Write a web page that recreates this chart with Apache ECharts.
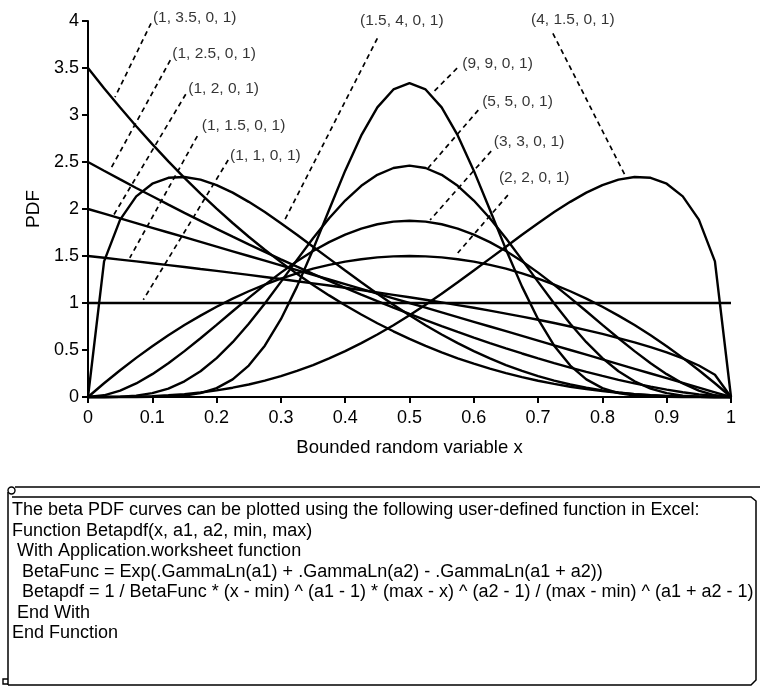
<!DOCTYPE html>
<html>
<head>
<meta charset="utf-8">
<script src="https://cdn.jsdelivr.net/npm/echarts@6/dist/echarts.min.js"></script>
<style>
  html, body { margin: 0; padding: 0; background: #fff; }
  #chart { width: 762px; height: 688px; }
</style>
</head>
<body>
<div id="chart"></div>
<script>
// x samples used for every curve (step 0.025)
var xs = [0, 0.025, 0.05, 0.075, 0.1, 0.125, 0.15, 0.175, 0.2, 0.225, 0.25, 0.275, 0.3, 0.325, 0.35, 0.375,
  0.4, 0.425, 0.45, 0.475, 0.5, 0.525, 0.55, 0.575, 0.6, 0.625, 0.65, 0.675, 0.7, 0.725, 0.75, 0.775,
  0.8, 0.825, 0.85, 0.875, 0.9, 0.925, 0.95, 0.975, 1];

var beta_1_1 = [1, 1, 1, 1, 1, 1, 1, 1, 1, 1, 1, 1, 1, 1, 1, 1, 1, 1, 1, 1, 1, 1, 1, 1, 1, 1, 1, 1, 1, 1, 1,
  1, 1, 1, 1, 1, 1, 1, 1, 1, 1];
var beta_1_15 = [1.5, 1.481, 1.462, 1.443, 1.423, 1.403, 1.383, 1.362, 1.342, 1.320, 1.299, 1.277, 1.255, 1.232,
  1.209, 1.186, 1.162, 1.137, 1.112, 1.087, 1.061, 1.034, 1.006, 0.978, 0.949, 0.919, 0.887, 0.855, 0.822,
  0.787, 0.75, 0.711, 0.671, 0.627, 0.581, 0.530, 0.474, 0.411, 0.335, 0.237, 0];
var beta_1_2 = [2, 1.95, 1.9, 1.85, 1.8, 1.75, 1.7, 1.65, 1.6, 1.55, 1.5, 1.45, 1.4, 1.35, 1.3, 1.25, 1.2, 1.15,
  1.1, 1.05, 1, 0.95, 0.9, 0.85, 0.8, 0.75, 0.7, 0.65, 0.6, 0.55, 0.5, 0.45, 0.4, 0.35, 0.3, 0.25, 0.2, 0.15,
  0.1, 0.05, 0];
var beta_1_25 = [2.5, 2.407, 2.315, 2.224, 2.135, 2.046, 1.959, 1.873, 1.789, 1.706, 1.624, 1.543, 1.464, 1.386,
  1.310, 1.235, 1.162, 1.090, 1.020, 0.951, 0.884, 0.818, 0.755, 0.693, 0.632, 0.574, 0.518, 0.463, 0.411,
  0.361, 0.313, 0.267, 0.224, 0.183, 0.145, 0.110, 0.079, 0.051, 0.028, 0.010, 0];
var beta_1_35 = [3.5, 3.285, 3.079, 2.880, 2.690, 2.507, 2.331, 2.164, 2.003, 1.851, 1.705, 1.566, 1.435, 1.310,
  1.192, 1.081, 0.976, 0.877, 0.785, 0.699, 0.619, 0.544, 0.475, 0.412, 0.354, 0.301, 0.254, 0.211, 0.173,
  0.139, 0.109, 0.084, 0.063, 0.045, 0.031, 0.019, 0.011, 0.005, 0.002, 0, 0];
var beta_15_4 = [0, 1.443, 1.887, 2.134, 2.269, 2.332, 2.341, 2.312, 2.254, 2.174, 2.076, 1.967, 1.849, 1.726,
  1.599, 1.472, 1.345, 1.220, 1.099, 0.982, 0.870, 0.764, 0.665, 0.573, 0.488, 0.410, 0.340, 0.278, 0.222,
  0.174, 0.133, 0.099, 0.070, 0.048, 0.031, 0.018, 0.009, 0.004, 0.001, 0, 0];
var beta_4_15 = [0, 0, 0.001, 0.004, 0.009, 0.018, 0.031, 0.048, 0.070, 0.099, 0.133, 0.174, 0.222, 0.278,
  0.340, 0.410, 0.488, 0.573, 0.665, 0.764, 0.870, 0.982, 1.099, 1.220, 1.345, 1.472, 1.599, 1.726, 1.849,
  1.967, 2.076, 2.174, 2.254, 2.312, 2.341, 2.332, 2.269, 2.134, 1.887, 1.443, 0];
var beta_2_2 = [0, 0.146, 0.285, 0.416, 0.54, 0.656, 0.765, 0.866, 0.96, 1.046, 1.125, 1.196, 1.26, 1.316,
  1.365, 1.406, 1.44, 1.466, 1.485, 1.496, 1.5, 1.496, 1.485, 1.466, 1.44, 1.406, 1.365, 1.316, 1.26, 1.196,
  1.125, 1.046, 0.96, 0.866, 0.765, 0.656, 0.54, 0.416, 0.285, 0.146, 0];
var beta_3_3 = [0, 0.018, 0.068, 0.144, 0.243, 0.359, 0.488, 0.625, 0.768, 0.912, 1.055, 1.193, 1.323, 1.444,
  1.553, 1.648, 1.728, 1.792, 1.838, 1.866, 1.875, 1.866, 1.838, 1.792, 1.728, 1.648, 1.553, 1.444, 1.323,
  1.193, 1.055, 0.912, 0.768, 0.625, 0.488, 0.359, 0.243, 0.144, 0.068, 0.018, 0];
var beta_5_5 = [0, 0, 0.003, 0.015, 0.041, 0.090, 0.167, 0.274, 0.413, 0.583, 0.779, 0.995, 1.225, 1.459,
  1.688, 1.901, 2.090, 2.247, 2.364, 2.436, 2.461, 2.436, 2.364, 2.247, 2.090, 1.901, 1.688, 1.459, 1.225,
  0.995, 0.779, 0.583, 0.413, 0.274, 0.167, 0.090, 0.041, 0.015, 0.003, 0, 0];
var beta_9_9 = [0, 0, 0, 0, 0.001, 0.005, 0.015, 0.041, 0.094, 0.187, 0.334, 0.546, 0.828, 1.174, 1.570, 1.992,
  2.408, 2.783, 3.081, 3.272, 3.339, 3.272, 3.081, 2.783, 2.408, 1.992, 1.570, 1.174, 0.828, 0.546, 0.334,
  0.187, 0.094, 0.041, 0.015, 0.005, 0.001, 0, 0, 0, 0];

var curveNames = ['(1, 1, 0, 1)', '(1, 1.5, 0, 1)', '(1, 2, 0, 1)', '(1, 2.5, 0, 1)', '(1, 3.5, 0, 1)',
  '(1.5, 4, 0, 1)', '(4, 1.5, 0, 1)', '(2, 2, 0, 1)', '(3, 3, 0, 1)', '(5, 5, 0, 1)', '(9, 9, 0, 1)'];
var curveValues = [beta_1_1, beta_1_15, beta_1_2, beta_1_25, beta_1_35, beta_15_4, beta_4_15,
  beta_2_2, beta_3_3, beta_5_5, beta_9_9];

// callout labels: text, where the text starts, and the dashed leader (top end, bottom end)
var labelTexts = ['(1, 3.5, 0, 1)', '(1, 2.5, 0, 1)', '(1, 2, 0, 1)', '(1, 1.5, 0, 1)', '(1, 1, 0, 1)',
  '(1.5, 4, 0, 1)', '(9, 9, 0, 1)', '(5, 5, 0, 1)', '(3, 3, 0, 1)', '(2, 2, 0, 1)', '(4, 1.5, 0, 1)'];
var labelAt = [[0.101, 4.04], [0.131, 3.657], [0.156, 3.275], [0.177, 2.882], [0.221, 2.564],
  [0.423, 4.008], [0.582, 3.55], [0.613, 3.136], [0.631, 2.711], [0.639, 2.329], [0.689, 4.018]];
var leaderTop = [[0.098, 3.976], [0.128, 3.583], [0.152, 3.221], [0.170, 2.776], [0.218, 2.521],
  [0.450, 3.816], [0.574, 3.498], [0.607, 3.052], [0.627, 2.616], [0.653, 2.148], [0.723, 3.869]];
var leaderEnd = [[0.042, 3.19], [0.036, 2.436], [0.039, 1.925], [0.065, 1.48], [0.086, 1.034],
  [0.306, 1.883], [0.537, 3.243], [0.529, 2.436], [0.532, 1.883], [0.575, 1.532], [0.835, 2.361]];

var noteLines = [
  'The beta PDF curves can be plotted using the following user-defined function in Excel:',
  'Function Betapdf(x, a1, a2, min, max)',
  ' With Application.worksheet function',
  '  BetaFunc = Exp(.GammaLn(a1) + .GammaLn(a2) - .GammaLn(a1 + a2))',
  '  Betapdf = 1 / BetaFunc * (x - min) ^ (a1 - 1) * (max - x) ^ (a2 - 1) / (max - min) ^ (a1 + a2 - 1)',
  ' End With',
  'End Function'
];

var FONT = '"Liberation Sans", Arial, sans-serif';
var chart = echarts.init(document.getElementById('chart'));

var series = [];
curveValues.forEach(function (vals, i) {
  series.push({
    name: curveNames[i],
    type: 'line',
    data: xs.map(function (x, j) { return [x, vals[j]]; }),
    showSymbol: false,
    symbol: 'none',
    smooth: false,
    clip: false,
    lineStyle: { color: '#000', width: 2.4 },
    silent: true,
    z: 3
  });
});
labelTexts.forEach(function (t, i) {
  series.push({
    type: 'line',
    data: [leaderTop[i], leaderEnd[i]],
    symbol: 'none',
    clip: false,
    silent: true,
    lineStyle: { color: '#000', width: 1.7, type: [5, 4] },
    z: 2
  });
});
series.push({
  type: 'scatter',
  data: labelTexts.map(function (t, i) { return [labelAt[i][0], labelAt[i][1], t]; }),
  symbolSize: 0,
  clip: false,
  silent: true,
  label: {
    show: true,
    position: 'right',
    distance: 0,
    formatter: function (p) { return p.value[2]; },
    fontFamily: FONT,
    fontSize: 15.5,
    color: '#000'
  }
});

chart.setOption({
  animation: false,
  backgroundColor: '#fff',
  grid: { left: 88, right: 31, top: 21, bottom: 291 },
  xAxis: {
    type: 'value',
    min: 0, max: 1, interval: 0.1,
    name: 'Bounded random variable x',
    nameLocation: 'middle',
    nameGap: 41,
    nameTextStyle: { fontFamily: FONT, fontSize: 18.5, color: '#000' },
    axisLine: { show: true, lineStyle: { color: '#000', width: 2 } },
    axisTick: { show: true, length: 6, lineStyle: { color: '#000', width: 2 } },
    axisLabel: { margin: 12, fontFamily: FONT, fontSize: 18, color: '#000' },
    splitLine: { show: false }
  },
  yAxis: {
    type: 'value',
    min: 0, max: 4, interval: 0.5,
    name: 'PDF',
    nameLocation: 'middle',
    nameGap: 45,
    nameTextStyle: { fontFamily: FONT, fontSize: 19, color: '#000' },
    axisLine: { show: true, lineStyle: { color: '#000', width: 2 } },
    axisTick: { show: true, length: 6, lineStyle: { color: '#000', width: 2 } },
    axisLabel: { margin: 9, fontFamily: FONT, fontSize: 18, color: '#000' },
    splitLine: { show: false }
  },
  series: series,
  graphic: [
    { type: 'polyline', shape: { points: [[15, 487], [760, 487]] },
      style: { stroke: '#000', lineWidth: 1.5, fill: null } },
    { type: 'polyline', shape: { points: [[12, 497], [751, 497], [756, 501], [756, 680], [751, 685], [8, 685]] },
      style: { stroke: '#000', lineWidth: 1.5, fill: null } },
    { type: 'polyline', shape: { points: [[8, 492], [8, 685]] },
      style: { stroke: '#000', lineWidth: 1.5, fill: null } },
    { type: 'circle', shape: { cx: 11.5, cy: 490.5, r: 3.5 },
      style: { stroke: '#000', lineWidth: 1.4, fill: null } },
    { type: 'polyline', shape: { points: [[8, 679], [3, 679], [3, 684], [8, 684]] },
      style: { stroke: '#000', lineWidth: 1.4, fill: null } },
    { type: 'text', left: 12, top: 500,
      style: { text: noteLines.join('\n'), font: '18px ' + FONT, lineHeight: 20.5, fill: '#000' } }
  ]
});
</script>
</body>
</html>
